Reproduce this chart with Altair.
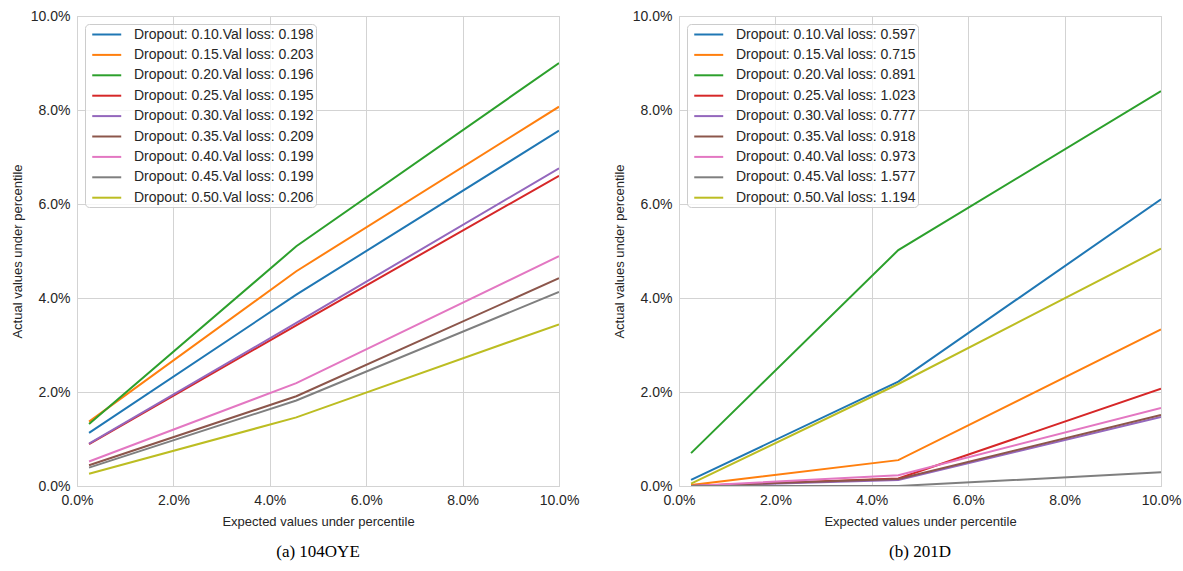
import altair as alt
import pandas as pd

# Expected-value positions (percent) at which each curve is evaluated
x_pts = [0.25, 4.55, 10.0]

dropouts = ["0.10", "0.15", "0.20", "0.25", "0.30", "0.35", "0.40", "0.45", "0.50"]
palette = ["#1f77b4", "#ff7f0e", "#2ca02c", "#d62728", "#9467bd",
           "#8c564b", "#e377c2", "#7f7f7f", "#bcbd22"]

# Panel (a): 104OYE
loss_a = ["0.198", "0.203", "0.196", "0.195", "0.192", "0.209", "0.199", "0.199", "0.206"]
a_d10 = [1.13, 4.07, 7.56]
a_d15 = [1.37, 4.57, 8.07]
a_d20 = [1.32, 5.10, 9.00]
a_d25 = [0.89, 3.42, 6.60]
a_d30 = [0.90, 3.47, 6.76]
a_d35 = [0.44, 1.91, 4.42]
a_d40 = [0.52, 2.19, 4.89]
a_d45 = [0.39, 1.82, 4.13]
a_d50 = [0.26, 1.46, 3.44]

# Panel (b): 201D
loss_b = ["0.597", "0.715", "0.891", "1.023", "0.777", "0.918", "0.973", "1.577", "1.194"]
b_d10 = [0.13, 2.22, 6.10]
b_d15 = [0.02, 0.55, 3.33]
b_d20 = [0.70, 5.02, 8.40]
b_d25 = [0.00, 0.16, 2.07]
b_d30 = [0.00, 0.13, 1.47]
b_d35 = [0.00, 0.15, 1.51]
b_d40 = [0.00, 0.23, 1.66]
b_d45 = [0.00, 0.00, 0.29]
b_d50 = [0.05, 2.17, 5.05]

series_a = [a_d10, a_d15, a_d20, a_d25, a_d30, a_d35, a_d40, a_d45, a_d50]
series_b = [b_d10, b_d15, b_d20, b_d25, b_d30, b_d35, b_d40, b_d45, b_d50]

FONT = "Liberation Sans"
TEXT = "#262626"
GRID = "#d3d3d3"

pct_expr = "format(datum.value, '.1f') + '%'"


def frame(series, losses):
    rows = []
    labels = []
    for d, loss, ys in zip(dropouts, losses, series):
        lab = f"Dropout: {d}.Val loss: {loss}"
        labels.append(lab)
        for i, (x, y) in enumerate(zip(x_pts, ys)):
            rows.append({"x": x, "y": y, "label": lab, "i": i})
    return pd.DataFrame(rows), labels


def panel(series, losses, caption):
    df, labels = frame(series, losses)
    return alt.Chart(df).mark_line(strokeWidth=2, clip=True).encode(
        x=alt.X("x:Q", scale=alt.Scale(domain=[0, 10], nice=False),
                axis=alt.Axis(values=[0, 2, 4, 6, 8, 10], labelExpr=pct_expr,
                              labelFlush=False,
                              title="Expected values under percentile",
                              titlePadding=8)),
        y=alt.Y("y:Q", scale=alt.Scale(domain=[0, 10], nice=False),
                axis=alt.Axis(values=[0, 2, 4, 6, 8, 10], labelExpr=pct_expr,
                              labelFlush=False,
                              title="Actual values under percentile",
                              titlePadding=6)),
        color=alt.Color("label:N", sort=labels,
                        scale=alt.Scale(domain=labels, range=palette),
                        legend=alt.Legend(title=None, orient="top-left")),
        order="i:Q",
    ).properties(
        width=482, height=470,
        title=alt.TitleParams(caption, orient="bottom", anchor="middle",
                              font="Liberation Serif", fontSize=17,
                              fontWeight="normal", color="#000000", offset=16),
    )


left = panel(series_a, loss_a, "(a) 104OYE")
right = panel(series_b, loss_b, "(b) 201D")

chart = alt.hconcat(left, right, spacing=120, bounds="flush").resolve_scale(
    color="independent"
).resolve_legend(color="independent").properties(
    padding={"left": 10, "top": 8, "right": 0, "bottom": 5},
    background="white",
).configure_view(
    stroke="#cccccc", strokeWidth=1
).configure_axis(
    grid=True, gridColor=GRID, gridWidth=1, domain=False, ticks=False,
    labelFont=FONT, labelFontSize=14, labelColor=TEXT, labelPadding=7,
    titleFont=FONT, titleFontSize=13, titleColor=TEXT, titleFontWeight="normal",
).configure_legend(
    labelFont=FONT, labelFontSize=14, labelColor=TEXT,
    symbolType="M-0.45,0H3.55", symbolStrokeWidth=2, symbolSize=210,
    labelOffset=30, rowPadding=4.4, padding=2, offset=8,
    fillColor="rgba(255,255,255,0.8)", strokeColor="#cccccc", cornerRadius=4,
    labelLimit=400,
)

chart.save("out.html", embed_options={"renderer": "svg", "actions": False})
